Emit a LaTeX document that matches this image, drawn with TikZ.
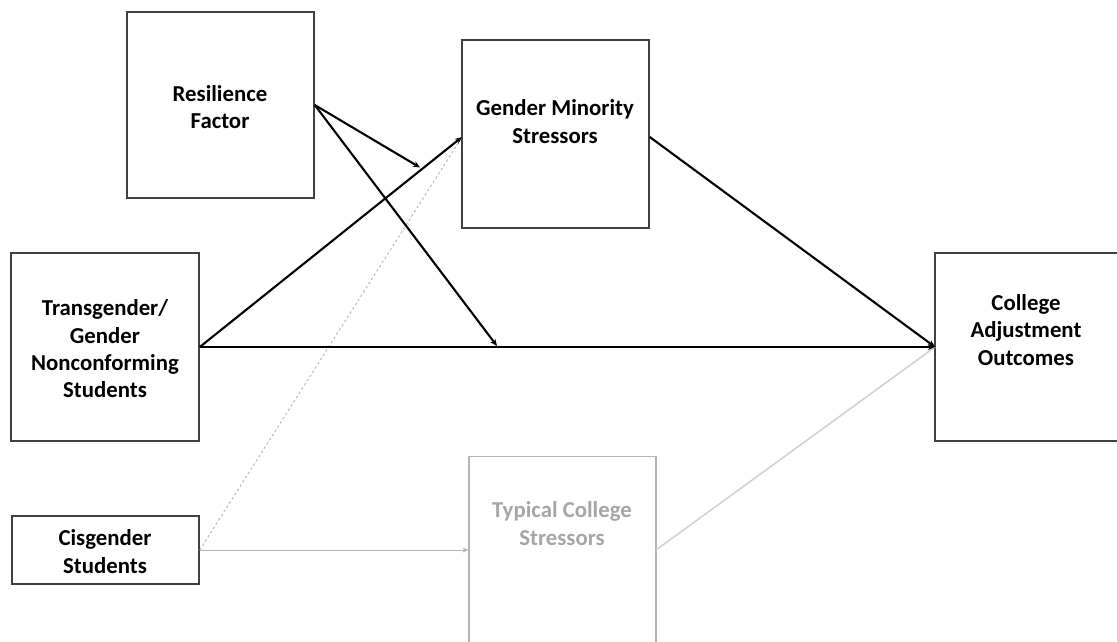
\documentclass[tikz,border=0pt]{standalone}
\usepackage{fontspec}
\setmainfont{Carlito}
\usetikzlibrary{arrows.meta}
\definecolor{boxline}{HTML}{404040}
\definecolor{lightline}{HTML}{B4B4B4}
\definecolor{lighttext}{HTML}{A6A6A6}
\definecolor{paleline}{HTML}{D0D0D0}
\tikzset{
  box/.style={draw=boxline, line width=1.5pt, rectangle, inner sep=0pt},
  lightbox/.style={draw=lightline, line width=1.2pt, rectangle, inner sep=0pt},
  lbl/.style={align=center, font=\fontsize{22.8}{27.3}\selectfont\bfseries, inner sep=0pt},
  lightlbl/.style={lbl, text=lighttext},
  path/.style={line width=2.1pt, black, -{Stealth[length=7pt,width=6pt]}},
  grayarrow/.style={line width=1pt, lightline, -{Stealth[length=6pt,width=5pt]}},
  dottedpath/.style={line width=0.9pt, lightline, dash pattern=on 2.5pt off 2.5pt},
  paleconn/.style={line width=1.5pt, paleline}
}
\begin{document}
\begin{tikzpicture}[x=1pt,y=-1pt]
\useasboundingbox (0,0) rectangle (1117,641);
\clip (0,0) rectangle (1117,641);
% boxes
\node[box, minimum width=187pt, minimum height=186pt] (res) at (220.5,105) {};
\node[box, minimum width=187pt, minimum height=188pt] (gm) at (555.5,134) {};
\node[box, minimum width=188pt, minimum height=188pt] (trans) at (105,347) {};
\node[box, minimum width=184pt, minimum height=188pt] (col) at (1027,347) {};
\node[box, minimum width=187pt, minimum height=68pt] (cis) at (105.5,550) {};
\node[lightbox, minimum width=187pt, minimum height=210pt, anchor=north] (typ) at (562.5,456) {};
% texts
\node[lbl] (rest) at (220,107) {Resilience\\Factor};
\node[lbl] (gmt) at (555,121.5) {Gender Minority\\Stressors};
\node[lbl] (transt) at (105,349) {Transgender/\\Gender\\Nonconforming\\Students};
\node[lbl] (colt) at (1026,330) {College\\Adjustment\\Outcomes};
\node[lbl] (cist) at (105,551.5) {Cisgender\\Students};
\node[lightlbl] (typt) at (562,523.5) {Typical College\\Stressors};
% free ends of moderation arrows
\coordinate (mod1) at (420,167.5);
\coordinate (mod2) at (497,346);
\coordinate (gmin) at (462,137);
\coordinate (colin) at (935,347);
\coordinate (typout) at (656,550);
% connectors
\draw[dottedpath] (cis.east) -- (gmin);
\draw[grayarrow] (cis.east) -- (typ.west |- cis.east);
\draw[paleconn] (typout) -- (colin);
\draw[path] (trans.east) -- (gmin);
\draw[path] (trans.east) -- (colin);
\draw[path] (res.east) -- (mod1);
\draw[path] (res.east) -- (mod2);
\draw[path] (gm.east |- gmin) -- (colin);
\end{tikzpicture}
\end{document}
